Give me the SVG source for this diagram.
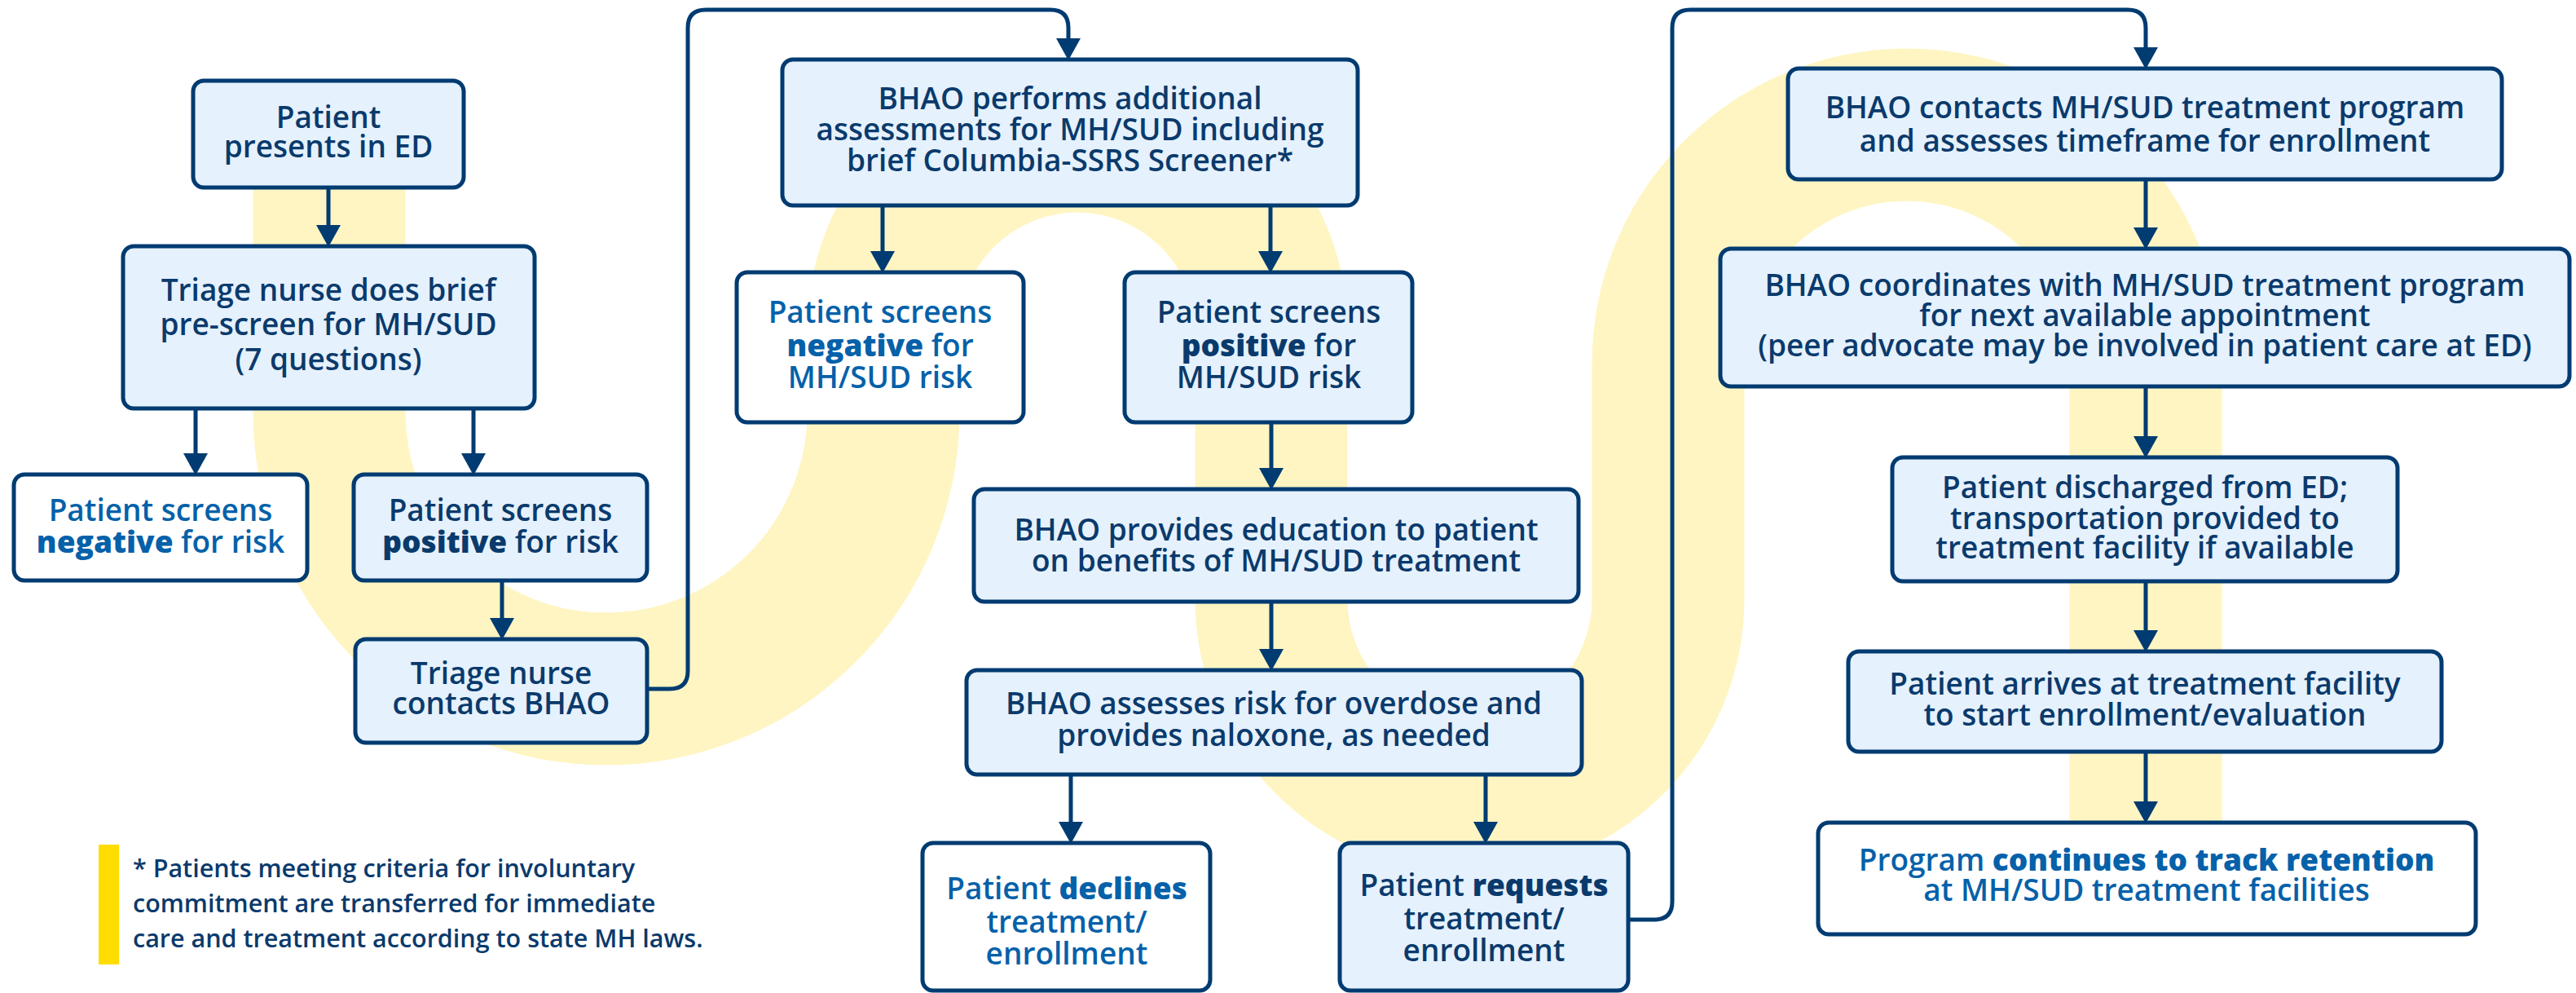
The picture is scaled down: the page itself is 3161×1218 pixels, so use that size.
<svg xmlns="http://www.w3.org/2000/svg" width="3161" height="1218" viewBox="0 0 3161 1218">
<defs>
<style>
.bg{fill:#ffffff}
.band{fill:none;stroke:#FFF5C2;stroke-width:187}
.box{fill:#E5F1FC;stroke:#003B71;stroke-width:5}
.wbox{fill:#ffffff;stroke:#003B71;stroke-width:5}
.t{font-family:"Open Sans","Noto Sans",sans-serif;font-size:37px;font-weight:600;fill:#0A3A6C;text-anchor:middle}
.tb{fill:#0561A9}
.b{font-weight:800}
.fn{font-family:"Open Sans","Noto Sans",sans-serif;font-size:30.5px;font-weight:600;fill:#0A3A6C}
.c{fill:none;stroke:#003B71;stroke-width:5;marker-end:url(#ah)}
</style>
<marker id="ah" markerUnits="userSpaceOnUse" markerWidth="28" markerHeight="30" refX="21" refY="15" orient="auto">
<path d="M0,0 L27,15 L0,30 Z" fill="#003B71"/>
</marker>
</defs>
<rect class="bg" x="0" y="0" width="3161" height="1218"/>
<g id="background">
<path class="band" d="M404,140 L404,505 A340,340 0 0 0 1084,505 L1084,405 A238,238 0 0 1 1560,405 L1560,735 A243.5,243.5 0 0 0 2047,735 L2047,446 A293,293 0 0 1 2633,446 L2633,1100"/>
</g>
<g id="connectors">
<path class="c" d="M403,230 L403,297"/>
<path class="c" d="M240,501 L240,577"/>
<path class="c" d="M581,501 L581,577"/>
<path class="c" d="M616,712 L616,779"/>
<path class="c" d="M794,845 L822,845 Q844,845 844,823 L844,34 Q844,12 866,12 L1289,12 Q1311,12 1311,34 L1311,68"/>
<path class="c" d="M1083,252 L1083,329"/>
<path class="c" d="M1559,252 L1559,329"/>
<path class="c" d="M1560,518 L1560,595"/>
<path class="c" d="M1560,738 L1560,817"/>
<path class="c" d="M1314,950 L1314,1029"/>
<path class="c" d="M1823,950 L1823,1029"/>
<path class="c" d="M1998,1128 L2030,1128 Q2052,1128 2052,1106 L2052,34 Q2052,12 2074,12 L2611,12 Q2633,12 2633,34 L2633,79"/>
<path class="c" d="M2633,220 L2633,300"/>
<path class="c" d="M2633,474 L2633,556"/>
<path class="c" d="M2633,713 L2633,794"/>
<path class="c" d="M2633,922 L2633,1004"/>
</g>
<g id="n1"><rect class="box" x="237" y="99" width="332" height="131" rx="13"/>
<text class="t" x="403" y="157">Patient</text><text class="t" x="403" y="193">presents in ED</text></g>
<g id="n2"><rect class="box" x="151" y="302" width="505" height="199" rx="13"/>
<text class="t" x="403" y="369">Triage nurse does brief</text><text class="t" x="403" y="411">pre-screen for MH/SUD</text><text class="t" x="403" y="454">(7 questions)</text></g>
<g id="n3"><rect class="wbox" x="17" y="582" width="360" height="130" rx="13"/>
<text class="t tb" x="197" y="639">Patient screens</text><text class="t tb" x="197" y="678"><tspan class="b">negative</tspan> for risk</text></g>
<g id="n4"><rect class="box" x="434" y="582" width="360" height="130" rx="13"/>
<text class="t" x="614" y="639">Patient screens</text><text class="t" x="614" y="678"><tspan class="b">positive</tspan> for risk</text></g>
<g id="n5"><rect class="box" x="436" y="784" width="358" height="127" rx="13"/>
<text class="t" x="615" y="839">Triage nurse</text><text class="t" x="615" y="876">contacts BHAO</text></g>
<g id="n6"><rect class="box" x="960" y="73" width="706" height="179" rx="13"/>
<text class="t" x="1313" y="134">BHAO performs additional</text><text class="t" x="1313" y="172">assessments for MH/SUD including</text><text class="t" x="1313" y="210">brief Columbia-SSRS Screener*</text></g>
<g id="n7"><rect class="wbox" x="904" y="334" width="352" height="184" rx="13"/>
<text class="t tb" x="1080" y="396">Patient screens</text><text class="t tb" x="1080" y="437"><tspan class="b">negative</tspan> for</text><text class="t tb" x="1080" y="476">MH/SUD risk</text></g>
<g id="n8"><rect class="box" x="1380" y="334" width="353" height="184" rx="13"/>
<text class="t" x="1557" y="396">Patient screens</text><text class="t" x="1557" y="437"><tspan class="b">positive</tspan> for</text><text class="t" x="1557" y="476">MH/SUD risk</text></g>
<g id="n9"><rect class="box" x="1195" y="600" width="742" height="138" rx="13"/>
<text class="t" x="1566" y="663">BHAO provides education to patient</text><text class="t" x="1566" y="701">on benefits of MH/SUD treatment</text></g>
<g id="n10"><rect class="box" x="1186" y="822" width="755" height="128" rx="13"/>
<text class="t" x="1563" y="876">BHAO assesses risk for overdose and</text><text class="t" x="1563" y="915">provides naloxone, as needed</text></g>
<g id="n11"><rect class="wbox" x="1132" y="1034" width="353" height="181" rx="13"/>
<text class="t tb" x="1309" y="1103">Patient <tspan class="b">declines</tspan></text><text class="t tb" x="1309" y="1144">treatment/</text><text class="t tb" x="1309" y="1183">enrollment</text></g>
<g id="n12"><rect class="box" x="1644" y="1034" width="354" height="181" rx="13"/>
<text class="t" x="1821" y="1099">Patient <tspan class="b">requests</tspan></text><text class="t" x="1821" y="1140">treatment/</text><text class="t" x="1821" y="1179">enrollment</text></g>
<g id="n13"><rect class="box" x="2194" y="84" width="876" height="136" rx="13"/>
<text class="t" x="2632" y="145">BHAO contacts MH/SUD treatment program</text><text class="t" x="2632" y="186">and assesses timeframe for enrollment</text></g>
<g id="n14"><rect class="box" x="2111" y="305" width="1042" height="169" rx="13"/>
<text class="t" x="2632" y="363">BHAO coordinates with MH/SUD treatment program</text><text class="t" x="2632" y="400">for next available appointment</text><text class="t" x="2632" y="437">(peer advocate may be involved in patient care at ED)</text></g>
<g id="n15"><rect class="box" x="2322" y="561" width="620" height="152" rx="13"/>
<text class="t" x="2632" y="611">Patient discharged from ED;</text><text class="t" x="2632" y="649">transportation provided to</text><text class="t" x="2632" y="685">treatment facility if available</text></g>
<g id="n16"><rect class="box" x="2268" y="799" width="728" height="123" rx="13"/>
<text class="t" x="2632" y="852">Patient arrives at treatment facility</text><text class="t" x="2632" y="890">to start enrollment/evaluation</text></g>
<g id="n17"><rect class="wbox" x="2231" y="1009" width="807" height="137" rx="13"/>
<text class="t tb" x="2634" y="1068">Program <tspan class="b">continues to track retention</tspan></text><text class="t tb" x="2634" y="1105">at MH/SUD treatment facilities</text></g>
<g id="footnote">
<rect x="121" y="1036" width="25" height="147" fill="#FFDD00"/>
<text class="fn" x="163" y="1076">* Patients meeting criteria for involuntary</text>
<text class="fn" x="163" y="1119">commitment are transferred for immediate</text>
<text class="fn" x="163" y="1162">care and treatment according to state MH laws.</text>
</g>
</svg>
